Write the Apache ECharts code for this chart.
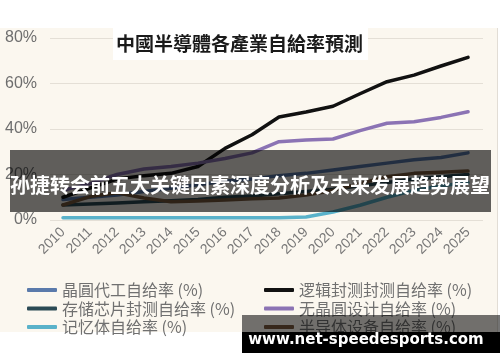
<!DOCTYPE html>
<html>
<head>
<meta charset="utf-8">
<script src="https://cdn.jsdelivr.net/npm/echarts@6/dist/echarts.min.js"></script>
<style>html,body{margin:0;padding:0;background:#fff;}#c{width:500px;height:362px;}</style>
</head>
<body>
<div id="c"></div>
<script>
const years = ['2010','2011','2012','2013','2014','2015','2016','2017','2018','2019','2020','2021','2022','2023','2024','2025'];
const yTicks = [0, 20, 40, 60, 80];
const foundry   = [9, 10, 11, 12.5, 14, 15.5, 17, 18, 19.5, 20.5, 22, 23.5, 25, 26.5, 27.5, 29.5];
const logicPkg  = [10, 14, 18, 19.5, 20.5, 23.5, 31.5, 37.5, 45.3, 47.5, 50, 55.5, 60.8, 63.7, 67.7, 71.5];
const memPkg    = [6.6, 7, 7.5, 8, 8.5, 9, 10, 10.5, 11.5, 12.5, 13.5, 15, 16.5, 18, 19, 20];
const fabless   = [13, 16, 20, 22.4, 23.5, 25, 27, 29.5, 34.4, 35.2, 35.6, 39.3, 42.5, 43.2, 45.1, 47.6];
const memory    = [1, 1, 1, 1, 1, 1, 1, 1, 1, 1.3, 3.5, 6.5, 10, 13, 15, 16.5];
const equipment = [6.6, 10.3, 12, 9.7, 8, 8.3, 8.8, 9.3, 9.7, 11, 13, 16, 19, 20.5, 21, 21.5];

const names = ['晶圓代工自给率 (%)', '存储芯片封测自给率 (%)', '记忆体自给率 (%)',
               '逻辑封测封测自给率 (%)', '无晶圓设计自给率 (%)', '半导体设备自给率 (%)'];
const colors = ['#5a7aab', '#2b4a55', '#5ab2ca', '#111111', '#8b73b4', '#7a5a3e'];
const datas = [foundry, memPkg, memory, logicPkg, fabless, equipment];

const chart = echarts.init(document.getElementById('c'), null, {renderer: 'canvas'});
const legendText = {color: '#707070', fontSize: 16, fontFamily: 'Noto Sans CJK SC', lineHeight: 18};
chart.setOption({
  backgroundColor: '#ffffff',
  animation: false,
  title: {
    text: '中國半導體各產業自給率預測',
    left: 113, top: 28,
    backgroundColor: '#ffffff',
    padding: [6, 5, 7, 3],
    textStyle: {fontSize: 19, fontWeight: 'bold', color: '#1a1a1a', fontFamily: 'Noto Sans CJK TC', lineHeight: 19}
  },
  legend: [
    {orient: 'vertical', left: 22, top: 276, itemWidth: 30, itemHeight: 4, itemGap: 0.5, icon: 'roundRect',
     data: names.slice(0, 3), textStyle: legendText},
    {orient: 'vertical', left: 259, top: 276, itemWidth: 30, itemHeight: 4, itemGap: 0.5, icon: 'roundRect',
     data: names.slice(3), textStyle: legendText}
  ],
  grid: [
    {left: 63, right: 32, top: 38, bottom: 142},
    {left: 50, right: 17, top: 38, bottom: 142}
  ],
  xAxis: [
    {type: 'category', gridIndex: 0, data: years, boundaryGap: false,
     axisLine: {show: false}, axisTick: {show: false},
     axisLabel: {rotate: 45, margin: 10, fontSize: 14, color: '#777', fontFamily: 'Liberation Sans', interval: 0}},
    {type: 'category', gridIndex: 1, data: years, show: false}
  ],
  yAxis: [
    {type: 'value', gridIndex: 0, min: 0, max: 80, interval: 20, show: false},
    {type: 'value', gridIndex: 1, min: yTicks[0], max: yTicks[yTicks.length - 1], interval: 20,
     axisLine: {show: false}, axisTick: {show: false},
     splitLine: {lineStyle: {color: '#e4dfd6', width: 1}},
     axisLabel: {formatter: '{value}%', fontSize: 16, color: '#6e6e6e', fontFamily: 'Liberation Sans', margin: 13}}
  ],
  series: names.map((n, i) => ({
    name: n, type: 'line', xAxisIndex: 0, yAxisIndex: 0, data: datas[i],
    symbol: 'none', smooth: false,
    lineStyle: {color: colors[i], width: i === 3 ? 3.5 : 3.5, cap: 'round', join: 'round'},
    itemStyle: {color: colors[i]}
  })),
  graphic: [
    {type: 'rect', z: -10, shape: {x: 0, y: 28, width: 497, height: 304}, style: {fill: '#fbf7ef'}},
    {type: 'rect', z: -9, shape: {x: 497, y: 28, width: 1, height: 304}, style: {fill: '#e2ddd5'}},
    {type: 'rect', z: 100, shape: {x: 10, y: 150, width: 481, height: 62}, style: {fill: 'rgba(0,0,0,0.62)'}},
    {type: 'text', z: 101, x: 250, y: 185,
     style: {text: '孙捷转会前五大关键因素深度分析及未来发展趋势展望', fill: '#ffffff', fontSize: 20, fontWeight: 'bold',
             fontFamily: 'Noto Sans CJK SC', textAlign: 'center', textVerticalAlign: 'middle'}},
    {type: 'rect', z: 100, shape: {x: 242, y: 315, width: 258, height: 17}, style: {fill: 'rgba(0,0,0,0.55)'}},
    {type: 'rect', z: 100, shape: {x: 242, y: 332, width: 258, height: 21}, style: {fill: '#000000'}},
    {type: 'text', z: 101, x: 366, y: 340,
     style: {text: 'www.net-speedesports.com', fill: '#ffffff', fontSize: 15, fontWeight: 'bold',
             fontFamily: 'DejaVu Sans', textAlign: 'center', textVerticalAlign: 'middle'}}
  ]
});
</script>
</body>
</html>
